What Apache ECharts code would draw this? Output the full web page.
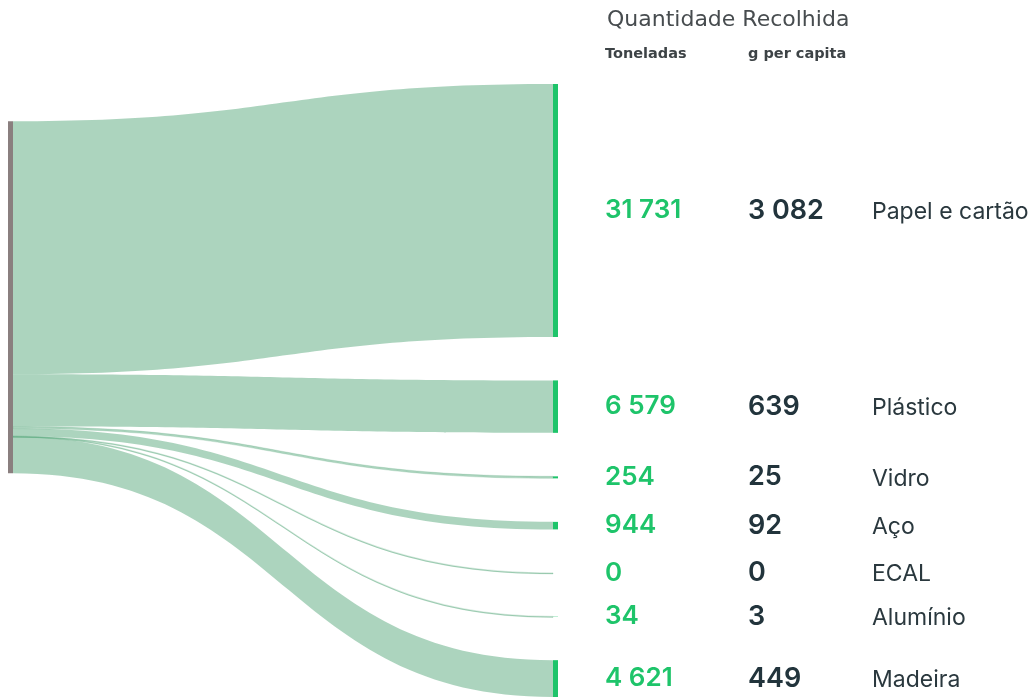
<!DOCTYPE html>
<html>
<head>
<meta charset="utf-8">
<script src="https://cdn.jsdelivr.net/npm/echarts@6/dist/echarts.min.js"></script>
<style>html,body{margin:0;padding:0;background:#fff}#c{width:1033px;height:697px}</style>
</head>
<body>
<div id="c"></div>
<script>
const sourceName = 'Total';
const categories = ['Papel e cartão', 'Plástico', 'Vidro', 'Aço', 'ECAL', 'Alumínio', 'Madeira'];
const tonnes = [31731, 6579, 254, 944, 0, 34, 4621];
const perCapita = [3082, 639, 25, 92, 0, 3, 449];
const titleText = 'Quantidade Recolhida';
const colHeaders = ['Toneladas', 'g per capita'];

function fmt(v) {
  return String(v).replace(/\B(?=(\d{3})+(?!\d))/g, ' ');
}

const FONT = 'Inter';
const HEAD_FONT = 'DejaVu Sans';
const TOP = 84, BOTTOM = 0, GAP = 43.5, H = 697 - TOP - BOTTOM;

// place the single source node at the value-weighted centre of its targets
const total = tonnes.reduce((a, b) => a + b, 0);
const ky = (H - (tonnes.length - 1) * GAP) / total;
let yAcc = 0, wsum = 0;
tonnes.forEach(v => { wsum += v * (yAcc + v * ky / 2); yAcc += v * ky + GAP; });
const srcLocalY = (wsum / total - total * ky / 2) / H;

const nodes = [{ name: sourceName, localY: srcLocalY, itemStyle: { color: '#8a7f7f' }, label: { show: false } }];
categories.forEach((c, i) => {
  nodes.push({ name: c, value: tonnes[i], itemStyle: { color: '#1ec46a' } });
});
const links = categories.map((c, i) => ({
  source: sourceName, target: c, value: tonnes[i],
  lineStyle: tonnes[i] < 300 ? { borderColor: 'rgba(89,169,125,0.45)', borderWidth: 1 } : {}
}));

const chart = echarts.init(document.getElementById('c'), null, { renderer: 'canvas' });
chart.setOption({
  animation: false,
  title: {
    text: titleText, left: 602, top: 4,
    textStyle: { fontFamily: HEAD_FONT, fontSize: 22, fontWeight: 'normal', color: '#474c4f' }
  },
  graphic: [
    { type: 'text', left: 605, top: 47, style: { text: colHeaders[0], fontFamily: HEAD_FONT, fontSize: 14.5, fontWeight: 'bold', fill: '#3d4346' } },
    { type: 'text', left: 748, top: 47, style: { text: colHeaders[1], fontFamily: HEAD_FONT, fontSize: 14.5, fontWeight: 'bold', fill: '#3d4346' } }
  ],
  series: [{
    type: 'sankey',
    left: 8, right: 475, top: TOP, bottom: BOTTOM,
    nodeWidth: 5, nodeGap: GAP,
    layoutIterations: 32,
    draggable: false,
    emphasis: { disabled: true },
    data: nodes,
    links: links,
    lineStyle: { color: '#59a97d', opacity: 0.5, curveness: 0.5 },
    label: {
      position: 'right', distance: 47,
      formatter: function (p) {
        const i = categories.indexOf(p.name);
        return '{t|' + fmt(tonnes[i]) + '}{g|' + fmt(perCapita[i]) + '}{n|' + p.name + '}';
      },
      rich: {
        t: { width: 143, fontFamily: FONT, fontSize: 26, fontWeight: 600, color: '#1ec46a' },
        g: { width: 124, fontFamily: FONT, fontSize: 27, fontWeight: 600, color: '#22343c' },
        n: { fontFamily: FONT, fontSize: 23, fontWeight: 400, color: '#2a383e', padding: [3, 0, 0, 0] }
      }
    }
  }]
});
</script>
</body>
</html>
